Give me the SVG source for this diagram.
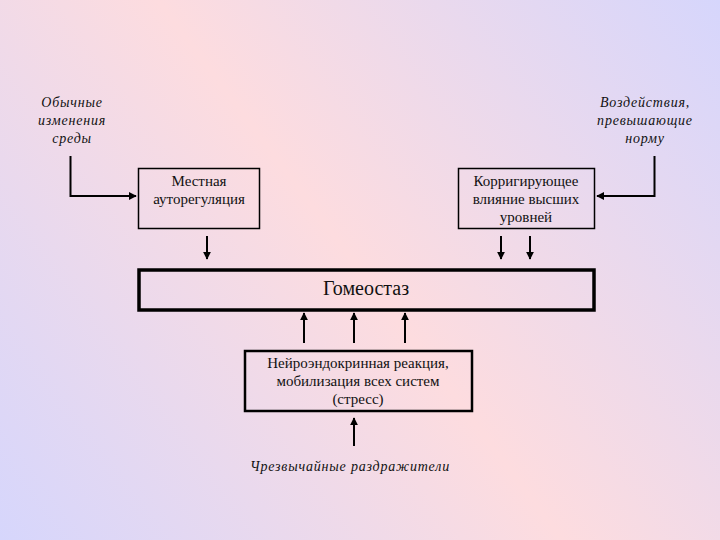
<svg xmlns="http://www.w3.org/2000/svg" width="720" height="540" viewBox="0 0 720 540">
<defs>
<linearGradient id="bg" x1="720" y1="0" x2="0" y2="540" gradientUnits="userSpaceOnUse">
<stop offset="0" stop-color="#d6d6fc"/>
<stop offset="0.5" stop-color="#fddcdf"/>
<stop offset="1" stop-color="#d6d6fc"/>
</linearGradient>
<marker id="ah" viewBox="0 0 10 10" refX="9" refY="5" markerWidth="4" markerHeight="4" orient="auto" markerUnits="strokeWidth">
<path d="M0,0 L10,5 L0,10 z" fill="#000"/>
</marker>
<style>
.box{fill:none;stroke:#000;stroke-width:1.5}
.t{font-size:15px;fill:#111;text-anchor:middle}
.i{font-style:italic;font-size:14px;fill:#111;text-anchor:middle;letter-spacing:0.8px}
.c{fill:none;stroke:#000;stroke-width:2;marker-end:url(#ah)}
</style>
</defs>
<rect width="720" height="540" fill="url(#bg)"/>
<g font-family="Liberation Serif, Times New Roman, serif">
<g id="label-left">
<text class="i" x="72" y="107">Обычные</text>
<text class="i" x="72" y="125">изменения</text>
<text class="i" x="72" y="143">среды</text>
</g>
<g id="label-right">
<text class="i" x="645" y="107">Воздействия,</text>
<text class="i" x="645" y="125">превышающие</text>
<text class="i" x="645" y="143">норму</text>
</g>
<g id="local">
<rect class="box" x="138.5" y="168.5" width="121" height="60"/>
<text class="t" x="199" y="186">Местная</text>
<text class="t" x="199" y="204">ауторегуляция</text>
</g>
<g id="correct">
<rect class="box" x="458.5" y="168.5" width="136" height="60"/>
<text class="t" x="526" y="186">Корригирующее</text>
<text class="t" x="526" y="204">влияние высших</text>
<text class="t" x="526" y="222">уровней</text>
</g>
<g id="homeostasis">
<rect x="139" y="270" width="455" height="40" fill="none" stroke="#000" stroke-width="3.5"/>
<text class="t" x="366" y="295" style="font-size:20px">Гомеостаз</text>
</g>
<g id="stress">
<rect x="245" y="351" width="227" height="60" fill="none" stroke="#000" stroke-width="2.5"/>
<text class="t" x="358" y="368">Нейроэндокринная реакция,</text>
<text class="t" x="358" y="386">мобилизация всех систем</text>
<text class="t" x="358" y="404">(стресс)</text>
</g>
<g id="label-bottom">
<text class="i" x="350" y="471">Чрезвычайные раздражители</text>
</g>
</g>
<g id="connectors">
<path class="c" d="M70.5,156 V196 H136"/>
<path class="c" d="M654.5,156 V196 H597"/>
<path class="c" d="M207,236 V259"/>
<path class="c" d="M501,236 V259"/>
<path class="c" d="M530,236 V259"/>
<path class="c" d="M304,343 V313"/>
<path class="c" d="M354,343 V313"/>
<path class="c" d="M405,343 V313"/>
<path class="c" d="M354,446 V418"/>
</g>
</svg>
